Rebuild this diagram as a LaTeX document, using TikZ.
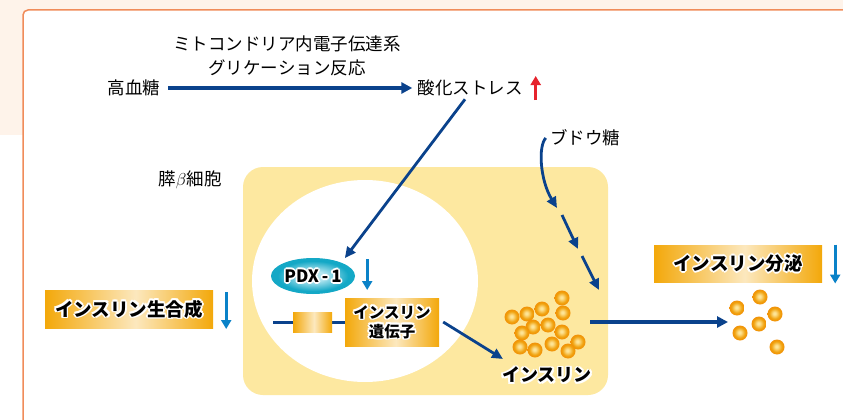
\documentclass[tikz,border=0pt]{standalone}
\usepackage{fontspec}
\setmainfont{Noto Sans CJK JP}
\usetikzlibrary{arrows.meta, shapes.geometric, positioning, calc}

\definecolor{pagepeach}{RGB}{254,243,234}
\definecolor{panelorange}{RGB}{240,140,90}
\definecolor{arrowblue}{RGB}{10,66,140}
\definecolor{signalblue}{RGB}{10,130,200}
\definecolor{alertred}{RGB}{230,35,45}
\definecolor{cellyellow}{RGB}{253,232,160}
\definecolor{goldDark}{RGB}{243,168,10}
\definecolor{goldLight}{RGB}{252,232,190}
\definecolor{granuleOrange}{RGB}{240,160,10}
\definecolor{granuleLight}{RGB}{253,228,150}
\definecolor{pdxteal}{RGB}{20,168,198}
\definecolor{pdxlight}{RGB}{180,230,240}

% shadings for boxes, granules and the PDX-1 blob
\pgfdeclarehorizontalshading{goldbar}{100bp}{color(0bp)=(goldDark); color(25bp)=(goldDark); color(52bp)=(goldLight); color(75bp)=(goldDark); color(100bp)=(goldDark)}
\pgfdeclareradialshading{granuleball}{\pgfpoint{-2bp}{2bp}}{color(0bp)=(granuleLight); color(4bp)=(granuleLight); color(18bp)=(granuleOrange); color(25bp)=(granuleOrange!90!red); color(50bp)=(granuleOrange!90!red)}
\pgfdeclareradialshading{pdxblob}{\pgfpoint{0bp}{0bp}}{color(0bp)=(pdxlight); color(7bp)=(pdxlight); color(21bp)=(pdxteal); color(25bp)=(pdxteal); color(50bp)=(pdxteal)}

% white outline behind bold labels
\newcommand{\halocopy}[3]{\rlap{\hspace*{#1}\raisebox{#2}{\textcolor{white}{#3}}}}
\newcommand{\halo}[1]{%
  \halocopy{1.8pt}{0pt}{#1}\halocopy{-1.8pt}{0pt}{#1}%
  \halocopy{0pt}{1.8pt}{#1}\halocopy{0pt}{-1.8pt}{#1}%
  \halocopy{1.3pt}{1.3pt}{#1}\halocopy{-1.3pt}{1.3pt}{#1}%
  \halocopy{1.3pt}{-1.3pt}{#1}\halocopy{-1.3pt}{-1.3pt}{#1}%
  #1}

\begin{document}
\begin{tikzpicture}[
    x=1pt, y=-1pt,
    font=\fontsize{17.5}{22}\selectfont,
    lbl/.style={inner sep=1pt},
    goldbox/.style={shade, shading=goldbar, inner sep=0pt, align=center, font=\fontsize{18.5}{21}\selectfont\bfseries},
    arrow/.style={-{Triangle[length=11pt,width=11pt]}, line width=3.4pt, color=arrowblue},
    thinarrow/.style={-{Triangle[length=11pt,width=10pt]}, line width=2.8pt, color=arrowblue},
    downarrow/.style={-{Triangle[length=9pt,width=10pt]}, line width=2.6pt, color=signalblue},
    uparrow/.style={-{Triangle[length=9pt,width=10pt]}, line width=2.6pt, color=alertred},
    granule/.style={shade, shading=granuleball}
]
\useasboundingbox (0,0) rectangle (843,420);

% === BACKGROUND AND PANEL ===
\fill[white] (0,0) rectangle (843,420);
\fill[pagepeach] (0,0) rectangle (843,135);
\filldraw[fill=white, draw=panelorange, line width=1.5pt, rounded corners=5pt] (23,10) rectangle (870,440);

% === TOP ROW ===
\node[lbl] (hbg) at (134,88) {高血糖};
\node[lbl] (ox) at (470,88) {酸化ストレス};
\node[lbl, align=center, font=\fontsize{17.5}{24}\selectfont] (route) at (287,56) {ミトコンドリア内電子伝達系\\グリケーション反応};
\draw[arrow] ([xshift=7pt]hbg.east) -- ([xshift=-4pt]ox.west);
\draw[uparrow] ([xshift=12pt,yshift=-12pt]ox.east) -- ++(0pt,24pt);

% === BETA CELL ===
\node[lbl] (bcell) at (190,180) {膵$\beta$細胞};
\node[fill=cellyellow, rounded corners=20pt, minimum width=365, minimum height=228, inner sep=0pt] (cell) at (425.5,281) {};
\node[fill=white, ellipse, minimum width=226, minimum height=202, inner sep=0pt] (nuc) at (365,281) {};

% nucleus: PDX-1 and insulin gene
\node[shade, shading=pdxblob, ellipse, minimum width=84, minimum height=36, inner sep=0pt, font=\fontsize{17}{20}\selectfont\bfseries] (pdx) at (313,276) {\halo{PDX\,-\,1}};
\draw[downarrow] ([xshift=12pt,yshift=17pt]pdx.east) -- ++(0pt,-31pt);
\coordinate (gstart) at (273,322);
\node[goldbox, minimum width=94, minimum height=48, font=\fontsize{15.5}{19}\selectfont\bfseries] (gene) at (392,322) {\halo{インスリン}\\\halo{遺伝子}};
\draw[line width=3pt, arrowblue] (gstart) -- (gene.west);
\node[goldbox, minimum width=39, minimum height=20] (exon) at (312.5,322) {};

% insulin granules
\foreach \gx/\gy in {562/298, 542/309, 527/314, 512/317, 563/313, 533/327, 548/325,
                     522/333, 562/332, 578/342, 552/344, 520/347, 535/350, 568/351}
    \shade[granule] (\gx,\gy) circle (7.5pt);
\node[lbl, font=\fontsize{18}{21}\selectfont\bfseries] (ins) at (547,375) {\halo{インスリン}};

% === ARROWS INTO AND OUT OF THE CELL ===
\draw[thinarrow] ([xshift=-5pt,yshift=-2pt]ox.south) -- ([xshift=2pt,yshift=5pt]pdx.north east);
\draw[thinarrow] ([xshift=4pt]gene.east) -- ([xshift=2pt,yshift=5pt]ins.north west);

\node[lbl] (glc) at (585,138) {ブドウ糖};
\coordinate (g1) at (557,208);
\coordinate (g2a) at (562,215);
\coordinate (g2b) at (578,249);
\coordinate (g3a) at (582,256);
\coordinate (g3b) at (599,290);
\draw[thinarrow] ([xshift=-3pt]glc.west) .. controls (538,146) and (540,180) .. (g1);
\draw[thinarrow] (g2a) -- (g2b);
\draw[thinarrow] (g3a) -- (g3b);

\coordinate (relstart) at (590,322);
\coordinate (relend) at (728,322);
\draw[arrow] (relstart) -- (relend);

% released granules
\foreach \gx/\gy in {760/297, 737/308, 775/314, 759/324, 740/333, 777/347}
    \shade[granule] (\gx,\gy) circle (7.5pt);

% === SIDE LABELS ===
\node[goldbox, minimum width=168, minimum height=38] (syn) at (129,309) {\halo{インスリン生合成}};
\draw[downarrow] ([xshift=13pt,yshift=17pt]syn.east) -- ++(0pt,-37pt);

\node[goldbox, minimum width=168, minimum height=37] (sec) at (738,263.5) {\halo{インスリン分泌}};
\draw[downarrow] ([xshift=13pt,yshift=19pt]sec.east) -- ++(0pt,-39pt);

\end{tikzpicture}
\end{document}
